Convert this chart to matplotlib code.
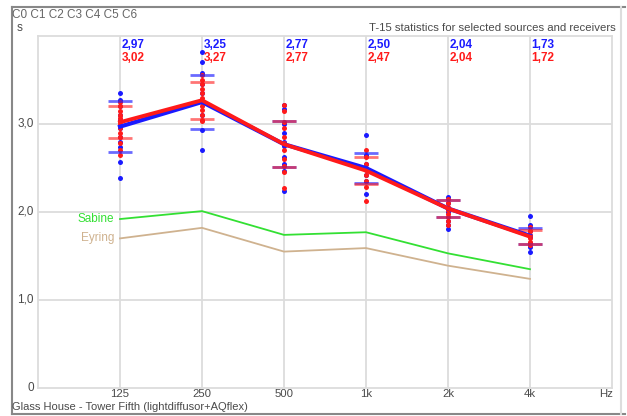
import numpy as np
import matplotlib.pyplot as plt
from matplotlib.lines import Line2D

plt.rcParams['font.family'] = ['Liberation Sans', 'DejaVu Sans']

bands = ['125', '250', '500', '1k', '2k', '4k']

# mean T-15 values per band
blue_mean = [2.97, 3.25, 2.77, 2.50, 2.04, 1.73]
red_mean = [3.02, 3.27, 2.77, 2.47, 2.04, 1.72]
# standard deviation (tick marks)
blue_std = [0.29, 0.31, 0.26, 0.17, 0.10, 0.09]
red_std = [0.18, 0.21, 0.26, 0.15, 0.10, 0.08]
# theoretical values
sabine = [1.92, 2.01, 1.74, 1.77, 1.53, 1.35]
eyring = [1.70, 1.82, 1.55, 1.59, 1.39, 1.24]

# individual source/receiver results
blue_pts = [
    [3.35, 3.27, 3.20, 3.10, 3.05, 2.95, 2.85, 2.80, 2.74, 2.57, 2.39],
    [3.82, 3.71, 3.58, 3.45, 3.35, 3.25, 3.10, 2.93, 2.70],
    [3.22, 3.17, 3.00, 2.90, 2.80, 2.75, 2.63, 2.55, 2.47, 2.24],
    [2.88, 2.65, 2.55, 2.50, 2.42, 2.35, 2.20],
    [2.17, 2.10, 2.05, 2.00, 1.90, 1.85, 1.81],
    [1.95, 1.85, 1.78, 1.72, 1.65, 1.60, 1.55],
]
red_pts = [
    [3.25, 3.20, 3.15, 3.10, 3.07, 3.03, 3.00, 2.95, 2.90, 2.85, 2.78, 2.70, 2.65],
    [3.56, 3.50, 3.45, 3.40, 3.35, 3.30, 3.25, 3.20, 3.16, 3.10, 3.05, 3.03],
    [3.22, 3.15, 3.02, 2.95, 2.85, 2.78, 2.70, 2.60, 2.52, 2.45, 2.27],
    [2.70, 2.62, 2.55, 2.48, 2.42, 2.35, 2.28, 2.13],
    [2.15, 2.10, 2.06, 2.02, 1.98, 1.94, 1.90, 1.85],
    [1.83, 1.78, 1.74, 1.70, 1.66, 1.62],
]

BLUE = '#1a1aff'
RED = '#ff1a1a'
GRAY = '#4a4a4a'

fig = plt.figure(figsize=(6.27, 4.16), dpi=100)
ax = fig.add_axes([38 / 627, 1 - 388 / 416, 574 / 627, 352 / 416])
x = np.arange(len(bands))

# grid
for xi in x:
    ax.axvline(xi, color='#dcdcdc', lw=1.3, zorder=0)
for yi in [1, 2, 3]:
    ax.axhline(yi, color='#dcdcdc', lw=1.3, zorder=0)
for s in ax.spines.values():
    s.set_color('#dcdcdc')
    s.set_linewidth(1.3)

ax.plot(x, sabine, color='#33e033', lw=1.3, zorder=2)
ax.plot(x, eyring, color='#cfb28f', lw=1.3, zorder=2)
ax.text(-0.07, sabine[0], 'Sabine', color='#33e033', fontsize=8.5,
        ha='right', va='center')
ax.text(-0.07, eyring[0], 'Eyring', color='#cfb28f', fontsize=8.5,
        ha='right', va='center')

for i in range(len(bands)):
    ax.plot([i] * len(blue_pts[i]), blue_pts[i], 'o', color=BLUE, ms=3.6, mew=0, zorder=3)
    ax.plot([i] * len(red_pts[i]), red_pts[i], 'o', color=RED, ms=3.6, mew=0, zorder=4)
    ax.plot([i, i], [blue_mean[i] - blue_std[i], blue_mean[i] + blue_std[i]], '_',
            color=BLUE, ms=17, mew=2, alpha=0.65, zorder=5)
    ax.plot([i, i], [red_mean[i] - red_std[i], red_mean[i] + red_std[i]], '_',
            color=RED, ms=17, mew=2, alpha=0.6, zorder=5)
    ax.text(i + 0.02, 3.90, f'{blue_mean[i]:.2f}'.replace('.', ','), color=BLUE,
            fontsize=8.5, fontweight='bold', ha='left', va='center')
    ax.text(i + 0.02, 3.75, f'{red_mean[i]:.2f}'.replace('.', ','), color=RED,
            fontsize=8.5, fontweight='bold', ha='left', va='center')

ax.plot(x, blue_mean, color=BLUE, lw=3, zorder=6)
ax.plot(x, red_mean, color=RED, lw=2.8, zorder=7)

ax.set_xlim(-1, 6)
ax.set_ylim(0, 4)
ax.set_xticks([])
ax.set_yticks([])
for i, b in enumerate(bands):
    ax.text(i, -0.065, b, color=GRAY, fontsize=8.2, ha='center', va='center')
ax.text(5.93, -0.065, 'Hz', color=GRAY, fontsize=8.2, ha='center', va='center')
for yi, lab in zip([0, 1, 2, 3], ['0', '1,0', '2,0', '3,0']):
    ax.text(-1.05, yi, lab, color=GRAY, fontsize=8.5, ha='right', va='center')

fig.text(12 / 627, 1 - 15 / 416, 'C0 C1 C2 C3 C4 C5 C6', color='#666666', fontsize=8.5,
         ha='left', va='center')
fig.text(17 / 627, 1 - 28 / 416, 's', color=GRAY, fontsize=8.5, ha='left', va='center')
fig.text(616 / 627, 1 - 28 / 416, 'T-15 statistics for selected sources and receivers',
         color=GRAY, fontsize=8.2, ha='right', va='center')
fig.text(12 / 627, 1 - 407.5 / 416, 'Glass House - Tower Fifth (lightdiffusor+AQflex)',
         color=GRAY, fontsize=8, ha='left', va='center')

# outer frame
fig.add_artist(Line2D([12 / 627, 625 / 627], [1 - 7 / 416] * 2, color='#888888', lw=1.5))
fig.add_artist(Line2D([12 / 627] * 2, [1 - 7 / 416, 1 - 414 / 416], color='#888888', lw=1.5))
fig.add_artist(Line2D([12 / 627, 625 / 627], [1 - 414 / 416] * 2, color='#888888', lw=1.5))
fig.add_artist(Line2D([621 / 627] * 2, [1 - 7 / 416, 1 - 414 / 416], color='#dddddd', lw=1.5))

fig.savefig('out.png', dpi=100)
